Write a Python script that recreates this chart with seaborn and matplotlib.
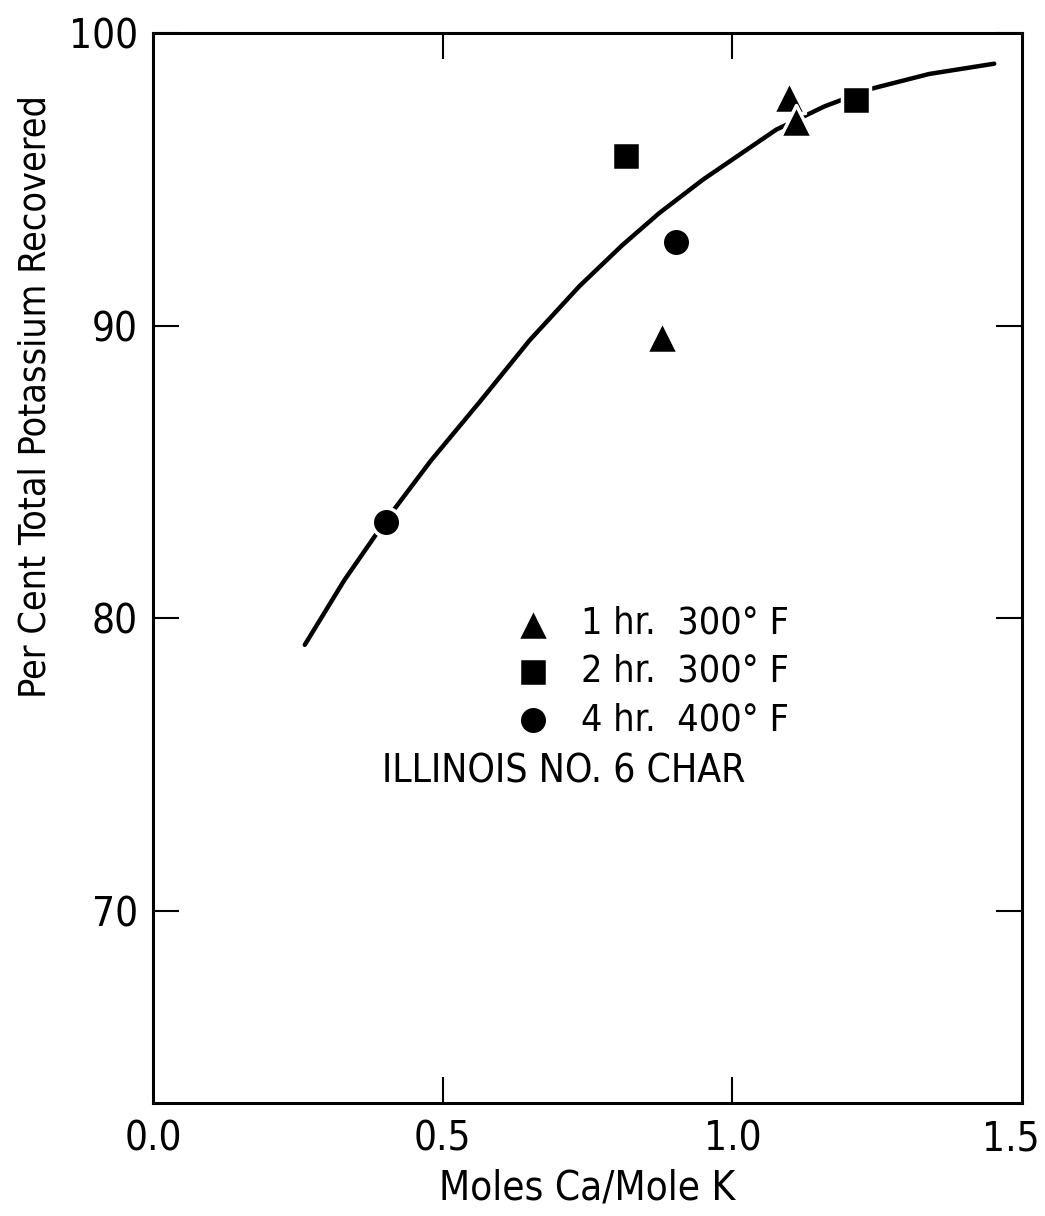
import numpy as np
import pandas as pd
import seaborn as sns
import matplotlib.pyplot as plt
from matplotlib.transforms import ScaledTranslation

# measured points
tri_x = [0.879, 1.097, 1.110]
tri_y = [89.6, 97.8, 97.0]
sq_x = [0.817, 1.214]
sq_y = [95.8, 97.7]
circ_x = [0.402, 0.902]
circ_y = [83.3, 92.85]

series_names = ["1 hr.  300\u00b0 F", "2 hr.  300\u00b0 F", "4 hr.  400\u00b0 F"]

# fitted curve
curve_x = [0.262, 0.33, 0.40, 0.48, 0.564, 0.65, 0.736, 0.81, 0.874, 0.95, 1.076, 1.16, 1.241, 1.34, 1.452]
curve_y = [79.1, 81.3, 83.3, 85.4, 87.4, 89.5, 91.35, 92.75, 93.85, 95.0, 96.7, 97.5, 98.1, 98.6, 98.95]

x_ticks = [0.0, 0.5, 1.0, 1.5]
x_ticklabels = ["0.0", "0.5", "1.0", "1.5"]
y_ticks = [70, 80, 90, 100]

sns.set_style("ticks")
plt.rcParams["font.family"] = ["DejaVu Sans"]
plt.rcParams["font.stretch"] = "condensed"

df = pd.concat([
    pd.DataFrame({"x": tri_x, "y": tri_y, "series": series_names[0]}),
    pd.DataFrame({"x": sq_x, "y": sq_y, "series": series_names[1]}),
    pd.DataFrame({"x": circ_x, "y": circ_y, "series": series_names[2]}),
])

fig = plt.figure(figsize=(10.45, 12.16), dpi=100)
ax = fig.add_axes([0.1464, 0.0929, 0.8316, 0.88])

sns.lineplot(x=curve_x, y=curve_y, sort=False, color="black", lw=3.2, ax=ax)

marker_map = {series_names[0]: "^", series_names[1]: "s", series_names[2]: "o"}
size_map = {series_names[0]: 530, series_names[1]: 420, series_names[2]: 420}
for name in series_names:
    sub = df[df["series"] == name]
    sns.scatterplot(data=sub, x="x", y="y", marker=marker_map[name], s=size_map[name],
                    color="black", edgecolor="white", linewidth=2.5, label=name,
                    ax=ax, zorder=3)

ax.set_xlim(0, 1.5)
ax.set_ylim(63.45, 100)
ax.set_xticks(x_ticks)
ax.set_xticklabels(x_ticklabels)
ax.set_yticks(y_ticks)

ax.tick_params(direction="in", length=19, width=1.5, top=True, right=True,
               labelcolor="black", color="black")
ax.tick_params(axis="y", labelsize=29, pad=11)
ax.tick_params(axis="x", labelsize=29, pad=12)
# keep the last x label inside the figure
last = ax.get_xticklabels()[-1]
last.set_transform(last.get_transform() + ScaledTranslation(-8 / 72, 0, fig.dpi_scale_trans))
# no tick marks drawn at the corners
for t in ax.xaxis.get_major_ticks():
    if t.get_loc() in (0.0, 1.5):
        t.tick1line.set_visible(False)
        t.tick2line.set_visible(False)
for t in ax.yaxis.get_major_ticks():
    if t.get_loc() == 100:
        t.tick1line.set_visible(False)
        t.tick2line.set_visible(False)

for sp in ax.spines.values():
    sp.set_linewidth(2.2)
    sp.set_color("black")
    sp.set_visible(True)

ax.set_xlabel("Moles Ca/Mole K", fontsize=29, labelpad=6, color="black")
ax.set_ylabel("Per Cent Total Potassium Recovered", fontsize=27, color="black")
ax.yaxis.set_label_coords(-0.115, 0.66)

leg = ax.legend(loc="upper left", bbox_to_anchor=(0.398, 0.479), frameon=False,
                fontsize=27, handletextpad=0.8, labelspacing=0.33,
                handlelength=1.0, borderaxespad=0, labelcolor="black")

ax.text(0.473, 0.31, "ILLINOIS NO. 6 CHAR", transform=ax.transAxes,
        ha="center", va="center", fontsize=28, color="black")

fig.savefig("out.png", dpi=100)
